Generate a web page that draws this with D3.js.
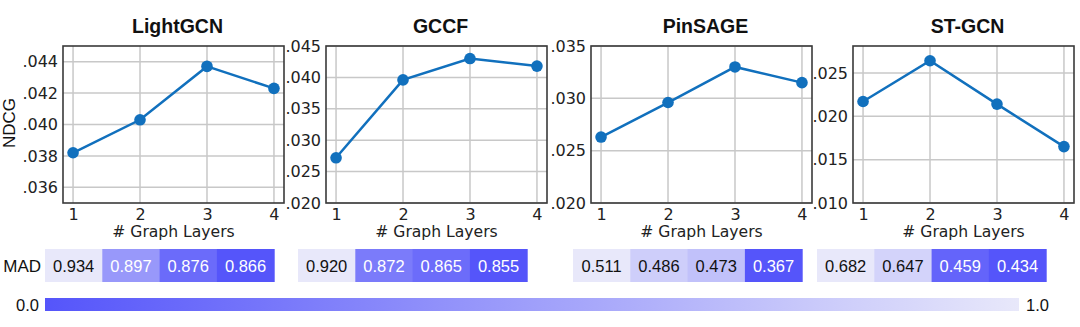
<!DOCTYPE html>
<html>
<head>
<meta charset="utf-8">
<script src="https://cdn.jsdelivr.net/npm/d3@7"></script>
<style>
  body { margin: 0; background: #fff; }
  svg { display: block; }
</style>
</head>
<body>
<svg width="1080" height="327"></svg>
<script>
// data
var models = ['LightGCN', 'GCCF', 'PinSAGE', 'ST-GCN'];
var layers = [1, 2, 3, 4];
var ndcgLightGCN = [0.0382, 0.0403, 0.0437, 0.0423];
var ndcgGCCF = [0.0272, 0.0396, 0.0430, 0.0418];
var ndcgPinSAGE = [0.0263, 0.0296, 0.0330, 0.0315];
var ndcgSTGCN = [0.0217, 0.0264, 0.0214, 0.0165];
var madLightGCN = [0.934, 0.897, 0.876, 0.866];
var madGCCF = [0.920, 0.872, 0.865, 0.855];
var madPinSAGE = [0.511, 0.486, 0.473, 0.367];
var madSTGCN = [0.682, 0.647, 0.459, 0.434];
var yDomains = [[0.035, 0.045], [0.020, 0.045], [0.020, 0.035], [0.010, 0.0281]];
var yTicks = [
    [0.036, 0.038, 0.040, 0.042, 0.044],
    [0.020, 0.025, 0.030, 0.035, 0.040, 0.045],
    [0.020, 0.025, 0.030, 0.035],
    [0.010, 0.015, 0.020, 0.025]
];
var barTicks = [0, 1];

var ndcg = [ndcgLightGCN, ndcgGCCF, ndcgPinSAGE, ndcgSTGCN];
var mad = [madLightGCN, madGCCF, madPinSAGE, madSTGCN];

var svg = d3.select('svg');
var panelLeft = [63, 326, 591, 853];
var panelW = 221, plotTop = 46, plotBottom = 203;
var heatLeft = [45, 298, 573, 817];
var cellW = 57.3, heatTop = 249, heatH = 33;

var blue = '#1170bd';
var dark = '#5555fa', light = '#e8e8fa';
var cmap = d3.interpolateRgb(dark, light);
var fmt = function(d) { return d3.format('.3f')(d).replace(/^0/, ''); };

models.forEach(function(name, i) {
    var x0 = panelLeft[i];
    var x = d3.scaleLinear().domain([0.85, 4.15]).range([x0, x0 + panelW]);
    var y = d3.scaleLinear().domain(yDomains[i]).range([plotBottom, plotTop]);
    var g = svg.append('g');

    // grid
    g.selectAll('.vg').data(layers).enter().append('line')
        .attr('x1', function(d) { return x(d); }).attr('x2', function(d) { return x(d); })
        .attr('y1', plotTop).attr('y2', plotBottom)
        .attr('stroke', '#c8c8c8').attr('stroke-width', 1.5);
    g.selectAll('.hg').data(yTicks[i]).enter().append('line')
        .attr('x1', x0).attr('x2', x0 + panelW)
        .attr('y1', function(d) { return y(d); }).attr('y2', function(d) { return y(d); })
        .attr('stroke', '#c8c8c8').attr('stroke-width', 1.5);

    // frame
    g.append('rect')
        .attr('x', x0).attr('y', plotTop).attr('width', panelW).attr('height', plotBottom - plotTop)
        .attr('fill', 'none').attr('stroke', '#3a3a3a').attr('stroke-width', 1.6);

    // axes
    var ya = g.append('g')
        .attr('transform', 'translate(' + x0 + ',0)')
        .call(d3.axisLeft(y).tickValues(yTicks[i]).tickFormat(fmt).tickSize(0).tickPadding(5));
    var xa = g.append('g')
        .attr('transform', 'translate(0,' + plotBottom + ')')
        .call(d3.axisBottom(x).tickValues(layers).tickFormat(d3.format('d')).tickSize(0).tickPadding(6));
    [ya, xa].forEach(function(a) {
        a.select('.domain').remove();
        a.selectAll('text')
            .attr('font-family', 'DejaVu Sans').attr('font-size', 16).attr('fill', '#222');
    });

    g.append('text')
        .attr('x', x0 + panelW / 2).attr('y', 237)
        .attr('text-anchor', 'middle')
        .attr('font-family', 'DejaVu Sans').attr('font-size', 15.6).attr('fill', '#222')
        .text('# Graph Layers');

    g.append('text')
        .attr('x', x0 + panelW / 2 + 4).attr('y', 33)
        .attr('text-anchor', 'middle')
        .attr('font-family', 'Liberation Sans').attr('font-weight', 'bold').attr('font-size', 19.5)
        .attr('fill', '#111')
        .text(name);

    // line + markers
    var pts = layers.map(function(l, j) { return [l, ndcg[i][j]]; });
    g.append('path')
        .datum(pts)
        .attr('d', d3.line().x(function(d) { return x(d[0]); }).y(function(d) { return y(d[1]); }))
        .attr('fill', 'none').attr('stroke', blue).attr('stroke-width', 2.5);
    g.selectAll('circle').data(pts).enter().append('circle')
        .attr('cx', function(d) { return x(d[0]); })
        .attr('cy', function(d) { return y(d[1]); })
        .attr('r', 5.8).attr('fill', blue);

    // MAD heat row, normalised within the model
    var norm = d3.scaleLinear().domain(d3.extent(mad[i])).range([0, 1]);
    var hx = d3.scaleBand().domain(layers).range([heatLeft[i], heatLeft[i] + 4 * cellW]);
    var cells = g.selectAll('.cell').data(mad[i]).enter().append('g');
    cells.append('rect')
        .attr('x', function(d, j) { return hx(layers[j]); })
        .attr('y', heatTop).attr('width', hx.bandwidth() + 0.5).attr('height', heatH)
        .attr('fill', function(d) { return cmap(norm(d)); });
    cells.append('text')
        .attr('x', function(d, j) { return hx(layers[j]) + hx.bandwidth() / 2; })
        .attr('y', heatTop + heatH / 2 + 6)
        .attr('text-anchor', 'middle')
        .attr('font-family', 'Liberation Sans').attr('font-size', 16.5)
        .attr('fill', function(d) { return norm(d) < 0.6 ? '#fff' : '#111'; })
        .text(function(d) { return d3.format('.3f')(d); });
});

svg.append('text')
    .attr('x', 9).attr('y', 123)
    .attr('transform', 'rotate(-90,9,123)')
    .attr('text-anchor', 'middle').attr('dominant-baseline', 'central')
    .attr('font-family', 'Liberation Sans').attr('font-size', 17).attr('fill', '#111')
    .text('NDCG');

svg.append('text')
    .attr('x', 41).attr('y', 272)
    .attr('text-anchor', 'end')
    .attr('font-family', 'Liberation Sans').attr('font-size', 17).attr('fill', '#111')
    .text('MAD');

// colour bar
var cb = d3.scaleLinear().domain(barTicks).range([45, 1019]);
var grad = svg.append('defs').append('linearGradient').attr('id', 'cbar');
grad.selectAll('stop').data(d3.range(0, 1.01, 0.1)).enter().append('stop')
    .attr('offset', function(d) { return d; })
    .attr('stop-color', function(d) { return cmap(d); });
svg.append('rect')
    .attr('x', cb(0)).attr('y', 298).attr('width', cb(1) - cb(0)).attr('height', 13)
    .attr('fill', 'url(#cbar)');
svg.selectAll('.cbt').data(barTicks).enter().append('text')
    .attr('x', function(d) { return d === 0 ? cb(d) - 6 : cb(d) + 7; })
    .attr('y', 311)
    .attr('text-anchor', function(d) { return d === 0 ? 'end' : 'start'; })
    .attr('font-family', 'Liberation Sans').attr('font-size', 16.5).attr('fill', '#111')
    .text(function(d) { return d3.format('.1f')(d); });
</script>
</body>
</html>
